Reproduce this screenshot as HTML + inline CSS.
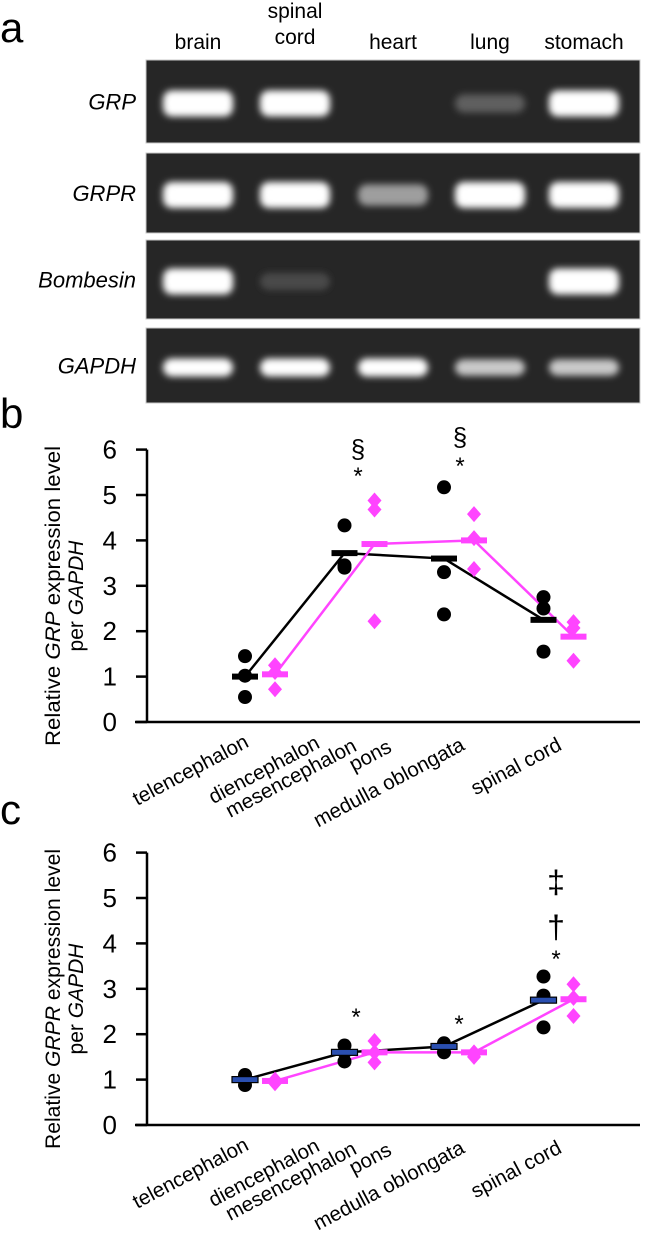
<!DOCTYPE html>
<html><head><meta charset="utf-8"><style>
body{margin:0;background:#fff;width:645px;height:1241px;overflow:hidden}
svg{display:block;font-family:"Liberation Sans",sans-serif}
</style></head><body>
<svg id="fig" width="645" height="1241" viewBox="0 0 645 1241">
<defs>
<filter id="blur" x="-30%" y="-60%" width="160%" height="220%"><feGaussianBlur stdDeviation="3.5"/></filter>
</defs>
<text x="0" y="42" font-size="42">a</text>
<g id="gel"></g>
<text x="0" y="428" font-size="42">b</text>
<g id="chartB"></g>
<text x="0" y="824" font-size="42">c</text>
<g id="chartC"></g>
</svg>
<script>
const NS='http://www.w3.org/2000/svg';
function mk(parent,tag,attrs,text){const e=document.createElementNS(NS,tag);for(const k in attrs)e.setAttribute(k,attrs[k]);if(text!==undefined)e.textContent=text;parent.appendChild(e);return e;}

// ---- Gel data ----
const tissues=['brain','spinal cord','heart','lung','stomach'];
const genes=['GRP','GRPR','Bombesin','GAPDH'];
const grpBands=[1,1,0,0.25,1];
const grprBands=[1,1,0.55,1,1];
const bombBands=[1,0.15,0,0,1];
const gapdhBands=[1,1,1,0.75,0.75];
const gelRows=[grpBands,grprBands,bombBands,gapdhBands];
const laneX=[198,295,393,490,584];
const rowTop=[60,153,240,328];
const rowBot=[143,233,319,403];

const gel=document.getElementById('gel');
tissues.forEach((t,i)=>{
  let tx;
  if(t==='spinal cord'){
    tx=mk(gel,'text',{x:laneX[i],y:18,'font-size':21,'text-anchor':'middle'},'spinal');
    
    
    tx=mk(gel,'text',{x:laneX[i],y:44,'font-size':21,'text-anchor':'middle'},'cord');
    
    
  } else {
    tx=mk(gel,'text',{x:laneX[i],y:49,'font-size':21,'text-anchor':'middle'},t);
    
    
  }
});
genes.forEach((g,r)=>{
  const bg=mk(gel,'rect',{x:146,y:rowTop[r],width:494,height:rowBot[r]-rowTop[r],fill:'#262626',stroke:'#c8c8c8','stroke-width':1});
  
  
  const lab=mk(gel,'text',{x:136,y:(rowTop[r]+rowBot[r])/2+8,'font-size':22,'font-style':'italic','text-anchor':'end'},g);
  
  
  const cy=(rowTop[r]+rowBot[r])/2+2;
  gelRows[r].forEach((v,i)=>{
    if(v<=0)return;
    const h=r===3?18:26;
    const hh=h*Math.min(1,0.6+0.4*v);
    const c=Math.round(40+215*v);
    const b=mk(gel,'rect',{x:laneX[i]-35,y:cy-hh/2,width:70,height:hh,rx:9,fill:`rgb(${c},${c},${c})`,filter:'url(#blur)'});
    
    
  });
});

// ---- Chart data ----
const groups=['telencephalon','diencephalon/mesencephalon/pons','medulla oblongata','spinal cord'];
const yTicks=[0,1,2,3,4,5,6];
const grpCtrlMean=[1.0,3.72,3.6,2.25];
const grpCtrlPts=[[1.45,1.02,0.55],[4.33,3.45,3.4],[5.17,3.3,2.37],[2.75,2.5,1.55]];
const grpTrtMean=[1.05,3.92,4.0,1.88];
const grpTrtPts=[[1.25,1.1,0.72],[4.88,4.68,2.22],[4.58,4.05,3.37],[2.2,2.07,1.35]];
const grprCtrlMean=[1.0,1.6,1.73,2.75];
const grprCtrlPts=[[1.1,1.0,0.88],[1.75,1.6,1.4],[1.8,1.7,1.6],[3.27,2.85,2.15]];
const grprTrtMean=[0.97,1.6,1.6,2.77];
const grprTrtPts=[[1.0,0.92,0.95],[1.85,1.6,1.38],[1.6,1.5,1.55],[3.1,2.8,2.4]];
const catLabels=['telencephalon','diencephalon','mesencephalon','pons','medulla oblongata','spinal cord'];
const catLabelPos=[[250,746],[321,747],[358,750],[393,751],[466,749],[563,749]];

function chart(gid,zeroY,gene,cM,cP,tM,tP,blueMean,marks){
  const g=document.getElementById(gid);
  const unit=45.4;
  const y=v=>zeroY-v*unit;
  const xc=i=>245+i*99.5, xt=i=>xc(i)+30;
  const ax=mk(g,'path',{d:`M147,${y(6)} V${zeroY} M135,${zeroY} H640`,stroke:'#000','stroke-width':2.5,fill:'none'});
  
  
  yTicks.forEach(t=>{
    const tk=mk(g,'line',{x1:136,x2:147,y1:y(t),y2:y(t),stroke:'#000','stroke-width':2.5});
    
    
    const tl=mk(g,'text',{x:117,y:y(t)+9,'font-size':26,'text-anchor':'end'},t);
    
    
  });
  const cy=zeroY-126;
  const tt=mk(g,'text',{transform:`translate(60,${cy}) rotate(-90)`,'font-size':21,'text-anchor':'middle',textLength:300,lengthAdjust:'spacingAndGlyphs'});
  
  
  mk(tt,'tspan',{},'Relative ');mk(tt,'tspan',{'font-style':'italic'},gene);mk(tt,'tspan',{},' expression level');
  const tt2=mk(g,'text',{transform:`translate(83,${cy}) rotate(-90)`,'font-size':21,'text-anchor':'middle'});
  
  
  mk(tt2,'tspan',{},'per ');mk(tt2,'tspan',{'font-style':'italic'},'GAPDH');
  const off=zeroY-722;
  catLabels.forEach((c,i)=>{
    const p=catLabelPos[i];
    const l=mk(g,'text',{transform:`translate(${p[0]},${p[1]+off}) rotate(-28)`,'font-size':20.5,'text-anchor':'end'},c);
    
    
  });
  const lc=mk(g,'polyline',{points:cM.map((v,i)=>`${xc(i)},${y(v)}`).join(' '),stroke:'#000','stroke-width':2.5,fill:'none'});
  
  
  const lt=mk(g,'polyline',{points:tM.map((v,i)=>`${xt(i)},${y(v)}`).join(' '),stroke:'#ff44ff','stroke-width':2.5,fill:'none'});
  
  
  cP.forEach((arr,i)=>arr.forEach(v=>{
    const c=mk(g,'circle',{cx:xc(i),cy:y(v),r:7,fill:'#000'});
    
    
  }));
  tP.forEach((arr,i)=>arr.forEach(v=>{
    const X=xt(i),Y=y(v);
    const d=mk(g,'polygon',{points:`${X},${Y-8} ${X+7},${Y} ${X},${Y+8} ${X-7},${Y}`,fill:'#ff44ff'});
    
    
  }));
  cM.forEach((v,i)=>{
    const m=mk(g,'rect',{x:xc(i)-13,y:y(v)-3,width:26,height:6,fill:blueMean?'#2a4fb0':'#000',stroke:'#000','stroke-width':blueMean?1.2:0});
    
    
  });
  tM.forEach((v,i)=>{
    const m=mk(g,'rect',{x:xt(i)-13,y:y(v)-3,width:26,height:6,fill:'#ff44ff'});
    
    
  });
  marks.forEach(mm=>{
    const t=mk(g,'text',{x:mm[0],y:mm[1],'font-size':mm[3]||22,'text-anchor':'middle'},mm[2]);
    
    
  });
}
chart('chartB',722,'GRP',grpCtrlMean,grpCtrlPts,grpTrtMean,grpTrtPts,false,
  [[358,458,'§',26],[358,484,'*',24],[460,446,'§',26],[460,474,'*',24]]);
chart('chartC',1125,'GRPR',grprCtrlMean,grprCtrlPts,grprTrtMean,grprTrtPts,true,
  [[356,1025,'*',24],[459,1032,'*',24],[556,893,'‡',32],[556,938,'†',32],[556,967,'*',24]]);
</script>
</body></html>
